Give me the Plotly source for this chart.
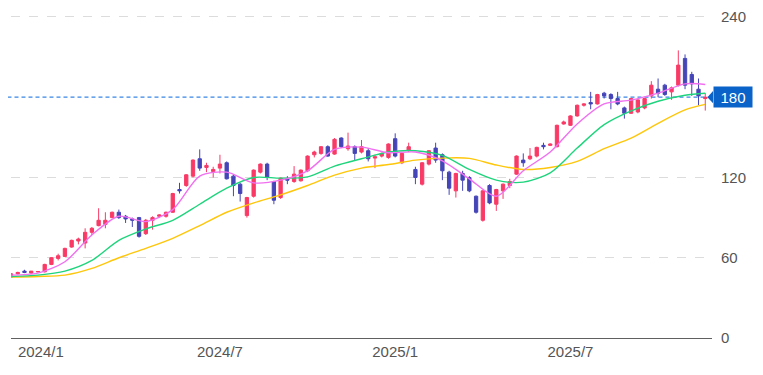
import pandas as pd
import plotly.graph_objects as go

# ---- data (weekly candles) ----
start_week = "2023-12-04"
opens = [45.5, 48, 50, 48.5, 49.5, 49.5, 55, 59.5, 61, 68, 72.5, 71, 79, 84, 85, 90,
         94, 91, 89, 90, 78, 88, 91, 91, 94, 111, 114, 121, 134, 127.5, 124.5, 127,
         131, 121, 115, 91.5, 106, 124, 130, 117, 105, 119, 117, 117.5, 125, 137, 138, 143,
         137.5, 149.5, 141.5, 143, 139, 140, 134.5, 136, 135, 149, 131, 140, 126, 115,
         130, 142, 137, 124, 110, 123, 120, 106, 88, 114, 100, 110, 114, 122.5, 133, 134,
         136, 144, 144, 143, 160, 159, 166, 174, 176, 175, 183, 182, 179, 172, 168, 169,
         172, 181, 186, 189, 184, 189, 209, 197, 186, 179]
highs = [48.5, 49.5, 51, 50, 50, 55.5, 60.5, 63, 67.5, 73.5, 75, 82, 83, 97, 94, 94.5,
         96, 92, 90, 90.5, 89, 91, 92.5, 94.5, 108.5, 116, 122.5, 133.5, 141, 131, 128, 137,
         132, 122, 116, 105.5, 126, 130.5, 131, 117.5, 120, 121, 128.5, 126, 136.5, 140, 143.5, 144,
         149.5, 150, 153.5, 144, 148, 142, 137, 138.5, 145.5, 153, 138.5, 146, 128, 131.5,
         140.5, 146, 138, 125, 123.5, 125, 121, 106.5, 110.5, 115, 111.5, 115.5, 119, 136.5, 138, 142,
         143, 146, 145.5, 159.5, 162.5, 166.5, 174.5, 175.5, 184, 182.5, 184, 183, 184, 173, 179.5, 178.5,
         179.5, 192, 194, 190, 188, 215, 212, 199, 194, 183]
lows = [45, 47.5, 48.5, 48, 49, 49, 54.5, 58, 60.5, 67.5, 70, 67, 77, 83.5, 82, 89.5,
        89, 86, 83, 75, 77, 81, 90, 90, 93.5, 108, 113, 120, 125, 124, 120, 123,
        118.5, 106, 102, 90, 105, 123, 118, 100, 104, 115, 116, 117, 124, 135, 137, 135.5,
        137, 142, 140, 133, 138, 132, 127, 135, 134, 135, 130, 139, 115, 114,
        129, 131, 118, 107, 105, 110, 109, 93, 87, 100, 95, 104, 112, 122, 128, 133,
        135, 141, 143.5, 142.5, 159.5, 158.5, 165.5, 173, 171, 174.5, 179, 171, 174, 164, 167.5, 168,
        171, 179, 180, 181, 178, 188, 186, 181, 174, 170]
closes = [48, 49, 49, 50, 49.7, 55, 60, 61.5, 67, 73, 74, 79, 82, 88, 88, 94,
          90, 89, 88, 76, 88, 90, 92, 94, 108, 110, 122, 133, 127, 129, 126, 130,
          119, 114, 108, 105, 125.5, 130, 120, 103, 119.5, 118, 122.5, 125.5, 136, 139, 143, 136,
          148.5, 143, 143.5, 138, 143, 134, 135.5, 138, 145, 136, 138, 143, 120, 131,
          140, 133, 125, 112, 123, 118, 110, 94, 110, 101, 111, 115, 117, 136, 131, 136,
          142.5, 143, 145, 159, 161.5, 166, 174, 175, 175, 182, 181, 179, 175, 168, 179, 178,
          179, 189, 183, 182, 187, 204, 189, 190, 181, 180]

# moving averages, read every 4 weeks (plus the last week)
ma_short = [47, 48.5, 57, 77, 91, 87, 96, 121, 124, 116, 118, 125, 141, 142.7,
            138.5, 139, 132.5, 119, 106, 125, 139, 160, 175, 177.8, 183, 190, 189.5]
ma_mid = [46, 47, 50, 58, 73, 81.5, 88, 100, 112, 120, 119.5, 120.5, 128.5, 134,
          139, 140, 136.5, 126, 118, 116.5, 123.5, 142, 159.5, 169.8, 177, 181.5, 183]
ma_long = [45.5, 46, 47, 52, 60, 67, 74.5, 84, 94, 101, 107, 114, 121.7, 127,
           129.7, 133, 134.5, 134.3, 129.3, 126, 127.5, 132, 141.5, 149.4, 160.5, 170.5, 174.6]

tick_dates = ["2024-01-04", "2024-07-08", "2025-01-06", "2025-07-07"]
tick_text = ["2024/1", "2024/7", "2025/1", "2025/7"]
y_ticks = [0, 60, 120, 240]

weeks = pd.date_range(start_week, periods=len(closes), freq="7D")
ma_weeks = list(weeks[::4]) + [weeks[-1]]

UP = "#f93a66"
DOWN = "#4545b8"
TAG = "#0a63c9"

fig = go.Figure()
fig.add_trace(go.Scatter(x=ma_weeks, y=ma_long, mode="lines",
                         line=dict(color="#ffc60a", width=1.4, shape="spline", smoothing=0.8),
                         hoverinfo="skip", showlegend=False))
fig.add_trace(go.Scatter(x=ma_weeks, y=ma_mid, mode="lines",
                         line=dict(color="#1ed47c", width=1.4, shape="spline", smoothing=0.8),
                         hoverinfo="skip", showlegend=False))
fig.add_trace(go.Candlestick(
    x=weeks, open=opens, high=highs, low=lows, close=closes,
    increasing=dict(line=dict(color=UP, width=1), fillcolor=UP),
    decreasing=dict(line=dict(color=DOWN, width=1), fillcolor=DOWN),
    showlegend=False))
fig.add_trace(go.Scatter(x=ma_weeks, y=ma_short, mode="lines",
                         line=dict(color="#f070f0", width=1.4, shape="spline", smoothing=0.8),
                         hoverinfo="skip", showlegend=False))

last = closes[-1]
fig.add_shape(type="line", xref="paper", yref="y", x0=-0.005, x1=1, y0=last, y1=last,
              line=dict(color="#3a86e6", width=1.3, dash="4px,3px"), layer="below")
fig.add_annotation(xref="paper", yref="y", x=1, y=last, xanchor="left", yanchor="middle",
                   xshift=1, text=f"{last:.0f}", showarrow=False, width=38, height=20,
                   bgcolor=TAG, borderpad=0,
                   font=dict(color="white", size=15, family="Liberation Sans, Arial"))
# pointer of the price tag
tri_h = 4.6
fig.add_shape(type="path", xref="paper", yref="y",
              path=f"M 0.9935,{last} L 1.0015,{last + tri_h} L 1.0015,{last - tri_h} Z",
              fillcolor=TAG, line=dict(width=0))

fig.update_layout(
    width=755, height=367,
    margin=dict(l=3, r=51, t=0, b=37),
    paper_bgcolor="white", plot_bgcolor="white",
    font=dict(family="Liberation Sans, Arial, sans-serif", size=15, color="#555"),
    hovermode=False,
    boxgap=0.3,
    xaxis=dict(type="date", range=[weeks[0], "2025-12-01"], rangeslider=dict(visible=False),
               tickvals=tick_dates, ticktext=tick_text, showgrid=False, showline=True,
               linecolor="#606060", linewidth=1, ticks="", ticklabelstandoff=0,
               zeroline=False),
    yaxis=dict(side="right", range=[0, 245.2], tickvals=y_ticks, showgrid=True,
               gridcolor="#dcdcdc", griddash="dash", gridwidth=1, zeroline=False,
               showline=False, ticks="", ticklabelstandoff=8, ticklabeloverflow="allow"),
)

fig.write_html("out.html")
